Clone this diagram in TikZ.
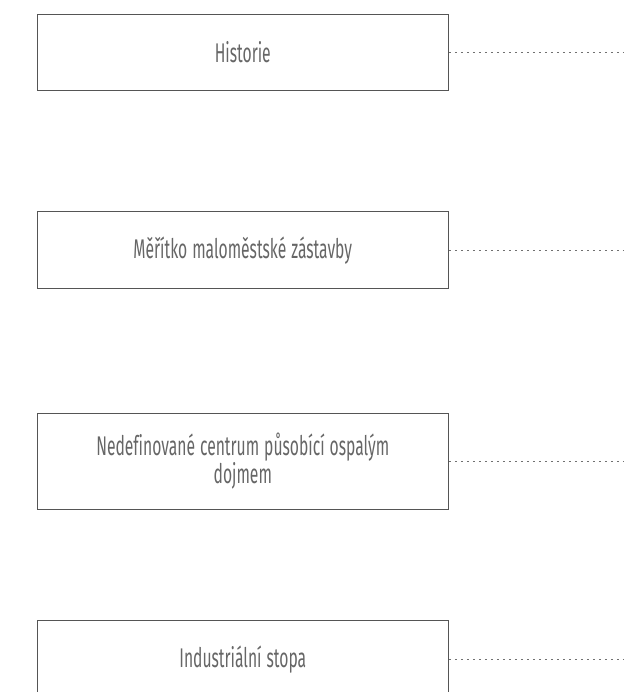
\documentclass[tikz,border=0pt]{standalone}
\usepackage{fontspec}
\setmainfont{Fira Sans}[FakeStretch=0.58,HyphenChar=None,Ligatures=NoCommon]
\usetikzlibrary{positioning}
\definecolor{ramecek}{HTML}{555555}
\definecolor{popis}{HTML}{666666}
\definecolor{tecky}{HTML}{707070}
\newcommand\blokzarovnani{\centering\spaceskip=5pt plus 1pt\relax}

\begin{document}
\begin{tikzpicture}[
    x=1pt,
    y=-1pt,
    blok/.style={draw=ramecek,line width=1pt,text=popis,
        font=\fontsize{27}{24}\selectfont,
        execute at begin node=\blokzarovnani,
        minimum width=411pt,text width=320pt,inner sep=0pt},
    spoj/.style={draw=tecky,line width=1pt,dash pattern=on 2.5pt off 3.5pt}
]
    \useasboundingbox (0,0) rectangle (623,692);

    % bloky
    \node[blok,minimum height=76.4pt] (historie) at (242.8,52.5) {Historie};
    \node[blok,minimum height=77.3pt] (meritko) at (242.8,250.3)
        {Měřítko maloměstské zástavby};
    \node[blok,minimum height=95.7pt] (centrum) at (242.8,461.2)
        {Nedefinované centrum působící ospalým dojmem};
    \node[blok,minimum height=78pt] (stopa) at (242.8,659.3)
        {Industriální stopa};

    % tečkované spoje k okraji
    \coordinate (k1) at (623,52.5);
    \coordinate (k2) at (623,250.3);
    \coordinate (k3) at (623,461.2);
    \coordinate (k4) at (623,659.3);
    \draw[spoj] (historie.east) -- (k1);
    \draw[spoj] (meritko.east) -- (k2);
    \draw[spoj] (centrum.east) -- (k3);
    \draw[spoj] (stopa.east) -- (k4);
\end{tikzpicture}
\end{document}
